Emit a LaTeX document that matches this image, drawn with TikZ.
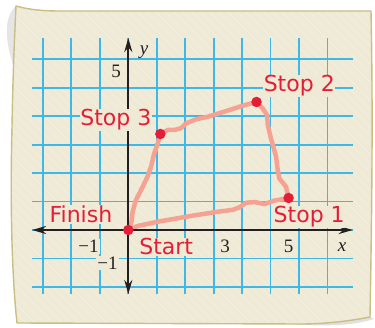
\documentclass[tikz,border=0pt]{standalone}
\usepackage{fontspec}
\newfontfamily\lblfont{DejaVu Sans}
\newfontfamily\numfont{Liberation Serif}
\usetikzlibrary{arrows.meta}
\definecolor{paper}{HTML}{EEEAD5}
\definecolor{paperedge}{HTML}{C9BE86}
\definecolor{gridblue}{HTML}{3DB8E8}
\definecolor{axisblack}{HTML}{231F20}
\definecolor{pathpink}{HTML}{F5A293}
\definecolor{stopred}{HTML}{E41E36}
\tikzset{
  gridline/.style={draw=gridblue, line width=1.8pt},
  axisline/.style={draw=axisblack, line width=2.2pt, {Stealth[length=14pt,width=8pt]}-{Stealth[length=14pt,width=8pt]}},
  route/.style={draw=pathpink, line width=4.5pt, line join=round, line cap=round},
  stopdot/.style={circle, fill=stopred, minimum size=10.5pt, inner sep=0pt},
  stoplabel/.style={font=\lblfont\fontsize{22}{22}\selectfont, text=stopred, fill=paper, inner sep=0.6pt, anchor=base west},
  ticklabel/.style={font=\numfont\fontsize{19}{19}\selectfont, text=axisblack, fill=paper, inner sep=1pt},
}
\begin{document}
\begin{tikzpicture}[x=1pt,y=1pt]
\useasboundingbox (0,0) rectangle (375,327);
% shadows
\fill[black!40, opacity=0.25] (16,321) .. controls (9,315) and (6,305) .. (7,290) .. controls (8,280) and (10,272) .. (13,262) -- (15,300) -- cycle;
\fill[black!40, opacity=0.3] (290,3) .. controls (330,0) and (355,2) .. (374,8) -- (370,10) .. controls (345,5) and (320,3) .. (300,3) -- cycle;
% paper
\path[fill=paper] (16,321) .. controls (30,317) and (45,316) .. (60,316) -- (371,316) .. controls (373,220) and (372,120) .. (370,10) .. controls (345,5) and (320,3) .. (300,3) -- (17,4) .. controls (12,50) and (10,120) .. (12,200) .. controls (13,260) and (15,300) .. (16,321) -- cycle;
\begin{scope}
\clip (16,321) .. controls (30,317) and (45,316) .. (60,316) -- (371,316) .. controls (373,220) and (372,120) .. (370,10) .. controls (345,5) and (320,3) .. (300,3) -- (17,4) .. controls (12,50) and (10,120) .. (12,200) .. controls (13,260) and (15,300) .. (16,321) -- cycle;
\foreach \i in {-360,-351,...,380} \draw[white, opacity=0.35, line width=0.5pt] (\i,327) -- ++(327,-327);
\end{scope}
\draw[paperedge, line width=1.4pt, line join=round] (16,321) .. controls (30,317) and (45,316) .. (60,316) -- (371,316) .. controls (373,220) and (372,120) .. (370,10) .. controls (345,5) and (320,3) .. (300,3) -- (17,4) .. controls (12,50) and (10,120) .. (12,200) .. controls (13,260) and (15,300) .. (16,321) -- cycle;
% graph
\begin{scope}[shift={(128.3,97)}, x=32.06pt, y=32pt]
\draw[gridline] (-3,-2) grid (7,6);
\coordinate (start) at (0,0);
\coordinate (s1) at (5,1);
\coordinate (s2) at (4,4);
\coordinate (s3) at (1,3);
\draw[route] (start) -- (0.29,0.125) -- (0.92,0.26) -- (1.96,0.44) -- (2.79,0.57) -- (3.26,0.63) -- (3.47,0.71) -- (3.67,0.85) -- (3.93,0.875) -- (4.25,0.81) -- (4.56,0.92) -- (s1)
 -- (4.92,1.35) -- (4.71,1.61) -- (4.66,1.875) -- (4.61,2.29) -- (4.45,2.86) -- (4.35,3.28) -- (4.33,3.59) -- (4.19,3.8) -- (s2)
 -- (3.62,3.9) -- (3.0,3.7) -- (2.48,3.54) -- (2.11,3.46) -- (1.8,3.33) -- (1.64,3.18) -- (1.44,3.125) -- (1.23,3.125) -- (s3)
 -- (0.92,2.71) -- (0.81,2.4) -- (0.71,1.98) -- (0.6,1.67) -- (0.45,1.35) -- (0.24,0.94) -- (0.135,0.57) -- (0.1,0.26) -- (start);
\coordinate (xl) at (-3,0);
\coordinate (xr) at (7,0);
\coordinate (yb) at (0,-2);
\coordinate (yt) at (0,6);
\draw[axisline] (xl) -- (xr);
\draw[axisline] (yb) -- (yt);
\node[stopdot] (dstart) at (start) {};
\node[stopdot] (d1) at (s1) {};
\node[stopdot] (d2) at (s2) {};
\node[stopdot] (d3) at (s3) {};
\node[stoplabel] (l3) at (-1.52,3.25) {Stop 3};
\node[stoplabel] (l2) at (4.20,4.32) {Stop 2};
\node[stoplabel] (l1) at (4.51,0.228) {Stop 1};
\node[stoplabel] (lf) at (-2.48,0.228) {Finish};
\node[stoplabel] (ls) at (0.32,-0.78) {Start};
\node[ticklabel] (ty5) at (-0.38,4.95) {5};
\node[ticklabel] (tym1) at (-0.65,-1.03) {−1};
\node[ticklabel] (txm1) at (-1.24,-0.52) {−1};
\node[ticklabel] (tx3) at (3.02,-0.52) {3};
\node[ticklabel] (tx5) at (5.0,-0.52) {5};
\node[ticklabel, font=\numfont\itshape\fontsize{19}{19}\selectfont, fill=none] (tx) at (6.67,-0.52) {x};
\node[ticklabel, font=\numfont\itshape\fontsize{19}{19}\selectfont, fill=none] (ty) at (0.49,5.56) {y};
\end{scope}
\end{tikzpicture}
\end{document}
